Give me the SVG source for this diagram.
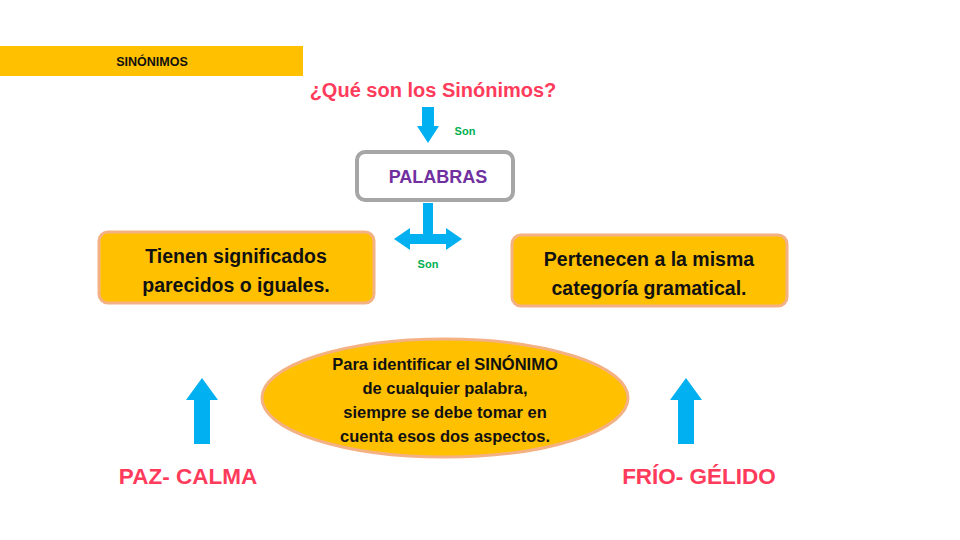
<svg xmlns="http://www.w3.org/2000/svg" width="960" height="540" viewBox="0 0 960 540">
<style>
text{font-family:"Liberation Sans",Arial,sans-serif;font-weight:bold;text-anchor:middle;dominant-baseline:central}
.blk{fill:#111}
.red{fill:#FF3B5C}
.grn{fill:#00B050;font-size:11px}
.arr{fill:#00B0F0}
.box{fill:#FFC000;stroke:#F4B183;stroke-width:3}
.t20{font-size:19.5px}
.t16{font-size:16.5px}
</style>
<rect width="960" height="540" fill="#fff"/>
<g id="title">
<rect x="0" y="46" width="303" height="30" fill="#FFC000"/>
<text x="152" y="62" class="blk" style="font-size:12.5px">SINÓNIMOS</text>
</g>
<g id="question">
<text x="433" y="90" class="red" style="font-size:20px">¿Qué son los Sinónimos?</text>
</g>
<g id="palabras">
<rect x="357" y="152" width="156" height="48" rx="8" fill="#fff" stroke="#A6A6A6" stroke-width="4"/>
<text x="438" y="177" style="font-size:18px;fill:#7030A0">PALABRAS</text>
</g>
<g id="tienen">
<rect x="99" y="232" width="275" height="71" rx="9" class="box"/>
<text x="236" y="256" class="blk t20">Tienen significados</text>
<text x="236" y="285" class="blk t20">parecidos o iguales.</text>
</g>
<g id="pertenecen">
<rect x="512" y="235" width="275" height="71" rx="9" class="box"/>
<text x="649" y="259" class="blk t20">Pertenecen a la misma</text>
<text x="649" y="288" class="blk t20">categoría gramatical.</text>
</g>
<g id="identificar">
<ellipse cx="445" cy="398" rx="183" ry="59" class="box"/>
<text x="445" y="364" class="blk t16">Para identificar el SINÓNIMO</text>
<text x="445" y="388" class="blk t16">de cualquier palabra,</text>
<text x="445" y="412" class="blk t16">siempre se debe tomar en</text>
<text x="445" y="436" class="blk t16">cuenta esos dos aspectos.</text>
</g>
<g id="paz">
<text x="188" y="476" class="red" style="font-size:22.5px">PAZ- CALMA</text>
</g>
<g id="frio">
<text x="699" y="476" class="red" style="font-size:22.5px">FRÍO- GÉLIDO</text>
</g>
<g id="connectors">
<path class="arr" d="M422 107 H434 V126 H439 L428 143 L417 126 H422 Z"/>
<text x="465" y="131" class="grn">Son</text>
<path class="arr" d="M423 203 H433 V234 H446 V228 L462 239 L446 250 V244 H410 V250 L394 239 L410 228 V234 H423 Z"/>
<text x="428" y="264" class="grn">Son</text>
<path class="arr" d="M194 444 V400 H186 L202 378 L218 400 H210 V444 Z"/>
<path class="arr" d="M678 444 V400 H670 L686 378 L702 400 H694 V444 Z"/>
</g>
</svg>
